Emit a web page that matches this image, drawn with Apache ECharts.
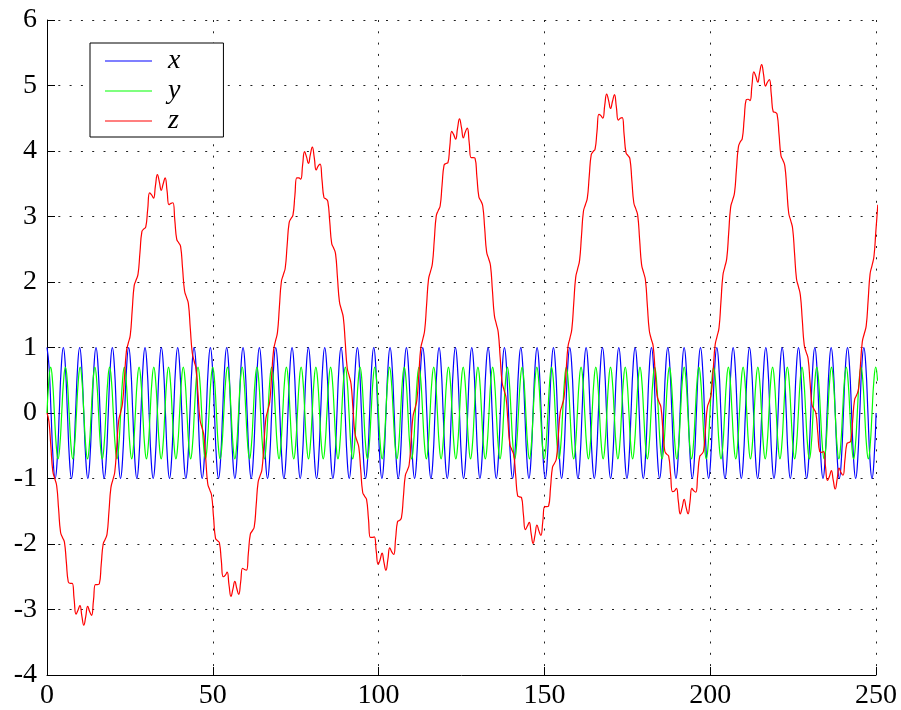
<!DOCTYPE html>
<html>
<head>
<meta charset="utf-8">
<title>x, y, z</title>
<script src="https://cdn.jsdelivr.net/npm/echarts@6/dist/echarts.min.js"></script>
<style>
  html, body { margin: 0; padding: 0; background: #ffffff; }
  #chart { width: 901px; height: 710px; }
</style>
</head>
<body>
<div id="chart"></div>
<script>
// Spacing (in time units) between consecutive recorded samples of each signal
const xSampleStep = 0.615833;
const ySampleStep = 0.55536;
const zSampleStep = 0.584029;

// x: fast oscillation, amplitude 1
const xValues = [
  1, 0.71, 0, -0.71, -1, -0.71, 0, 0.71, 1, 0.71, 0, -0.71, -1, -0.71, 0, 0.71,
  1, 0.71, 0, -0.71, -1, -0.71, 0, 0.71, 1, 0.71, 0, -0.71, -1, -0.71, 0, 0.71,
  1, 0.71, 0, -0.71, -1, -0.71, 0, 0.71, 1, 0.71, 0, -0.71, -1, -0.71, 0, 0.71,
  1, 0.71, 0, -0.71, -1, -0.71, 0, 0.71, 1, 0.71, 0, -0.71, -1, -0.71, 0, 0.71,
  1, 0.71, 0, -0.71, -1, -0.71, 0, 0.71, 1, 0.71, 0, -0.71, -1, -0.71, 0, 0.71,
  1, 0.71, 0, -0.71, -1, -0.71, 0, 0.71, 1, 0.71, 0, -0.71, -1, -0.71, 0, 0.71,
  1, 0.71, 0, -0.71, -1, -0.71, 0, 0.71, 1, 0.71, 0, -0.71, -1, -0.71, 0, 0.71,
  1, 0.71, 0, -0.71, -1, -0.71, 0, 0.71, 1, 0.71, 0, -0.71, -1, -0.71, 0, 0.71,
  1, 0.71, 0, -0.71, -1, -0.71, 0, 0.71, 1, 0.71, 0, -0.71, -1, -0.71, 0, 0.71,
  1, 0.71, 0, -0.71, -1, -0.71, 0, 0.71, 1, 0.71, 0, -0.71, -1, -0.71, 0, 0.71,
  1, 0.71, 0, -0.71, -1, -0.71, 0, 0.71, 1, 0.71, 0, -0.71, -1, -0.71, 0, 0.71,
  1, 0.71, 0, -0.71, -1, -0.71, 0, 0.71, 1, 0.71, 0, -0.71, -1, -0.71, 0, 0.71,
  1, 0.71, 0, -0.71, -1, -0.71, 0, 0.71, 1, 0.71, 0, -0.71, -1, -0.71, 0, 0.71,
  1, 0.71, 0, -0.71, -1, -0.71, 0, 0.71, 1, 0.71, 0, -0.71, -1, -0.71, 0, 0.71,
  1, 0.71, 0, -0.71, -1, -0.71, 0, 0.71, 1, 0.71, 0, -0.71, -1, -0.71, 0, 0.71,
  1, 0.71, 0, -0.71, -1, -0.71, 0, 0.71, 1, 0.71, 0, -0.71, -1, -0.71, 0, 0.71,
  1, 0.71, 0, -0.71, -1, -0.71, 0, 0.71, 1, 0.71, 0, -0.71, -1, -0.71, 0, 0.71,
  1, 0.71, 0, -0.71, -1, -0.71, 0, 0.71, 1, 0.71, 0, -0.71, -1, -0.71, 0, 0.71,
  1, 0.71, 0, -0.71, -1, -0.71, 0, 0.71, 1, 0.71, 0, -0.71, -1, -0.71, 0, 0.71,
  1, 0.71, 0, -0.71, -1, -0.71, 0, 0.71, 1, 0.71, 0, -0.71, -1, -0.71, 0, 0.71,
  1, 0.71, 0, -0.71, -1, -0.71, 0, 0.71, 1, 0.71, 0, -0.71, -1, -0.71, 0, 0.71,
  1, 0.71, 0, -0.71, -1, -0.71, 0, 0.71, 1, 0.71, 0, -0.71, -1, -0.71, 0, 0.71,
  1, 0.71, 0, -0.71, -1, -0.71, 0, 0.71, 1, 0.71, 0, -0.71, -1, -0.71, 0, 0.71,
  1, 0.71, 0, -0.71, -1, -0.71, 0, 0.71, 1, 0.71, 0, -0.71, -1, -0.71, 0, 0.71,
  1, 0.71, 0, -0.71, -1, -0.71, 0, 0.71, 1, 0.71, 0, -0.71, -1, -0.71, 0, 0.71,
  1, 0.71, 0, -0.71, -1, -0.71, 0
];

// y: slightly faster oscillation, amplitude 0.7
const yValues = [
  0, 0.49, 0.7, 0.49, 0, -0.49, -0.7, -0.49, 0, 0.49, 0.7, 0.49, 0, -0.49, -0.7, -0.49,
  0, 0.49, 0.7, 0.49, 0, -0.49, -0.7, -0.49, 0, 0.49, 0.7, 0.49, 0, -0.49, -0.7, -0.49,
  0, 0.49, 0.7, 0.49, 0, -0.49, -0.7, -0.49, 0, 0.49, 0.7, 0.49, 0, -0.49, -0.7, -0.49,
  0, 0.49, 0.7, 0.49, 0, -0.49, -0.7, -0.49, 0, 0.49, 0.7, 0.49, 0, -0.49, -0.7, -0.49,
  0, 0.49, 0.7, 0.49, 0, -0.49, -0.7, -0.49, 0, 0.49, 0.7, 0.49, 0, -0.49, -0.7, -0.49,
  0, 0.49, 0.7, 0.49, 0, -0.49, -0.7, -0.49, 0, 0.49, 0.7, 0.49, 0, -0.49, -0.7, -0.49,
  0, 0.49, 0.7, 0.49, 0, -0.49, -0.7, -0.49, 0, 0.49, 0.7, 0.49, 0, -0.49, -0.7, -0.49,
  0, 0.49, 0.7, 0.49, 0, -0.49, -0.7, -0.49, 0, 0.49, 0.7, 0.49, 0, -0.49, -0.7, -0.49,
  0, 0.49, 0.7, 0.49, 0, -0.49, -0.7, -0.49, 0, 0.49, 0.7, 0.49, 0, -0.49, -0.7, -0.49,
  0, 0.49, 0.7, 0.49, 0, -0.49, -0.7, -0.49, 0, 0.49, 0.7, 0.49, 0, -0.49, -0.7, -0.49,
  0, 0.49, 0.7, 0.49, 0, -0.49, -0.7, -0.49, 0, 0.49, 0.7, 0.49, 0, -0.49, -0.7, -0.49,
  0, 0.49, 0.7, 0.49, 0, -0.49, -0.7, -0.49, 0, 0.49, 0.7, 0.49, 0, -0.49, -0.7, -0.49,
  0, 0.49, 0.7, 0.49, 0, -0.49, -0.7, -0.49, 0, 0.49, 0.7, 0.49, 0, -0.49, -0.7, -0.49,
  0, 0.49, 0.7, 0.49, 0, -0.49, -0.7, -0.49, 0, 0.49, 0.7, 0.49, 0, -0.49, -0.7, -0.49,
  0, 0.49, 0.7, 0.49, 0, -0.49, -0.7, -0.49, 0, 0.49, 0.7, 0.49, 0, -0.49, -0.7, -0.49,
  0, 0.49, 0.7, 0.49, 0, -0.49, -0.7, -0.49, 0, 0.49, 0.7, 0.49, 0, -0.49, -0.7, -0.49,
  0, 0.49, 0.7, 0.49, 0, -0.49, -0.7, -0.49, 0, 0.49, 0.7, 0.49, 0, -0.49, -0.7, -0.49,
  0, 0.49, 0.7, 0.49, 0, -0.49, -0.7, -0.49, 0, 0.49, 0.7, 0.49, 0, -0.49, -0.7, -0.49,
  0, 0.49, 0.7, 0.49, 0, -0.49, -0.7, -0.49, 0, 0.49, 0.7, 0.49, 0, -0.49, -0.7, -0.49,
  0, 0.49, 0.7, 0.49, 0, -0.49, -0.7, -0.49, 0, 0.49, 0.7, 0.49, 0, -0.49, -0.7, -0.49,
  0, 0.49, 0.7, 0.49, 0, -0.49, -0.7, -0.49, 0, 0.49, 0.7, 0.49, 0, -0.49, -0.7, -0.49,
  0, 0.49, 0.7, 0.49, 0, -0.49, -0.7, -0.49, 0, 0.49, 0.7, 0.49, 0, -0.49, -0.7, -0.49,
  0, 0.49, 0.7, 0.49, 0, -0.49, -0.7, -0.49, 0, 0.49, 0.7, 0.49, 0, -0.49, -0.7, -0.49,
  0, 0.49, 0.7, 0.49, 0, -0.49, -0.7, -0.49, 0, 0.49, 0.7, 0.49, 0, -0.49, -0.7, -0.49,
  0, 0.49, 0.7, 0.49, 0, -0.49, -0.7, -0.49, 0, 0.49, 0.7, 0.49, 0, -0.49, -0.7, -0.49,
  0, 0.49, 0.7, 0.49, 0, -0.49, -0.7, -0.49, 0, 0.49, 0.7, 0.49, 0, -0.49, -0.7, -0.49,
  0, 0.49, 0.7, 0.49, 0, -0.49, -0.7, -0.49, 0, 0.49, 0.7, 0.49, 0, -0.49, -0.7, -0.49,
  0, 0.49, 0.7, 0.49, 0, -0.49, -0.7, -0.49, 0, 0.49, 0.7, 0.49, 0, -0.49, -0.7, -0.49,
  0, 0.49, 0.7, 0.49
];

// z: slow swing with a small ripple riding on it, drifting upward
const zValues = [
  0, -0.13, -0.51, -0.89, -1.00, -1.11, -1.47, -1.82, -1.90, -1.97,
  -2.28, -2.58, -2.60, -2.60, -2.84, -3.07, -3.01, -2.94, -3.10, -3.24,
  -3.11, -2.95, -3.03, -3.09, -2.86, -2.62, -2.62, -2.61, -2.31, -2.00,
  -1.93, -1.85, -1.50, -1.14, -1.02, -0.90, -0.52, -0.12, 0.01, 0.15,
  0.54, 0.94, 1.07, 1.19, 1.57, 1.94, 2.03, 2.12, 2.45, 2.77,
  2.81, 2.84, 3.11, 3.36, 3.33, 3.28, 3.47, 3.64, 3.53, 3.40,
  3.50, 3.59, 3.39, 3.18, 3.20, 3.21, 2.94, 2.65, 2.60, 2.54,
  2.21, 1.87, 1.77, 1.67, 1.29, 0.92, 0.79, 0.67, 0.28, -0.10,
  -0.22, -0.34, -0.71, -1.08, -1.17, -1.26, -1.59, -1.91, -1.95, -1.98,
  -2.25, -2.50, -2.48, -2.43, -2.63, -2.80, -2.69, -2.57, -2.68, -2.77,
  -2.58, -2.37, -2.39, -2.40, -2.13, -1.85, -1.80, -1.74, -1.41, -1.06,
  -0.96, -0.86, -0.48, -0.09, 0.04, 0.17, 0.57, 0.96, 1.10, 1.23,
  1.62, 2.00, 2.11, 2.21, 2.56, 2.90, 2.97, 3.02, 3.32, 3.59,
  3.59, 3.57, 3.79, 3.99, 3.91, 3.81, 3.95, 4.06, 3.90, 3.71,
  3.77, 3.80, 3.56, 3.29, 3.27, 3.23, 2.92, 2.59, 2.52, 2.43,
  2.06, 1.70, 1.58, 1.46, 1.08, 0.69, 0.57, 0.44, 0.06, -0.31,
  -0.42, -0.52, -0.87, -1.21, -1.27, -1.32, -1.62, -1.90, -1.90, -1.89,
  -2.11, -2.31, -2.24, -2.14, -2.28, -2.40, -2.24, -2.06, -2.12, -2.16,
  -1.92, -1.66, -1.64, -1.60, -1.29, -0.96, -0.88, -0.79, -0.42, -0.05,
  0.07, 0.20, 0.59, 0.99, 1.12, 1.26, 1.65, 2.04, 2.16, 2.28,
  2.65, 3.01, 3.09, 3.16, 3.48, 3.78, 3.81, 3.82, 4.07, 4.30,
  4.25, 4.18, 4.35, 4.49, 4.36, 4.20, 4.29, 4.35, 4.13, 3.90,
  3.90, 3.89, 3.60, 3.30, 3.24, 3.16, 2.82, 2.46, 2.36, 2.25,
  1.87, 1.49, 1.36, 1.23, 0.85, 0.47, 0.35, 0.24, -0.12, -0.48,
  -0.56, -0.64, -0.95, -1.26, -1.28, -1.29, -1.55, -1.78, -1.73, -1.67,
  -1.84, -1.99, -1.86, -1.71, -1.80, -1.87, -1.66, -1.43, -1.43, -1.42,
  -1.14, -0.83, -0.77, -0.70, -0.35, 0.01, 0.12, 0.24, 0.62, 1.01,
  1.14, 1.28, 1.68, 2.07, 2.20, 2.33, 2.71, 3.08, 3.18, 3.28,
  3.62, 3.94, 3.99, 4.03, 4.30, 4.56, 4.54, 4.50, 4.70, 4.87,
  4.77, 4.65, 4.76, 4.86, 4.67, 4.47, 4.50, 4.51, 4.25, 3.97,
  3.93, 3.88, 3.55, 3.21, 3.12, 3.02, 2.65, 2.27, 2.15, 2.03,
  1.64, 1.26, 1.13, 1.02, 0.64, 0.27, 0.17, 0.09, -0.25, -0.58,
  -0.63, -0.66, -0.94, -1.20, -1.19, -1.15, -1.35, -1.54, -1.44, -1.32,
  -1.44, -1.54, -1.36, -1.15, -1.19, -1.21, -0.95, -0.67, -0.63, -0.58,
  -0.25, 0.09, 0.18, 0.29, 0.66, 1.04, 1.17, 1.30, 1.70, 2.10,
  2.23, 2.36, 2.75, 3.14, 3.25, 3.36, 3.72, 4.06, 4.14, 4.19,
  4.49, 4.78, 4.79, 4.77, 5.00, 5.21, 5.14, 5.05, 5.20, 5.32,
  5.17, 4.99, 5.05, 5.09, 4.86, 4.60, 4.59, 4.56, 4.25, 3.93,
  3.86, 3.77, 3.42, 3.05, 2.94, 2.82, 2.44, 2.05, 1.93, 1.80,
  1.42, 1.04, 0.93, 0.83, 0.47, 0.13, 0.06, 0.00, -0.30, -0.59,
  -0.60, -0.59, -0.82, -1.03, -0.97, -0.88, -1.03, -1.16, -1.01, -0.84,
  -0.91, -0.95, -0.72, -0.47, -0.45, -0.43, -0.12, 0.20, 0.27, 0.36,
  0.72, 1.09, 1.21, 1.33, 1.72, 2.12, 2.25, 2.39, 2.78, 3.18
];

const seriesNames = ['x', 'y', 'z'];
const seriesColors = ['#0000ff', '#00ff00', '#ff0000'];
const xTickValues = [0, 50, 100, 150, 200, 250];
const yTickValues = [-4, -3, -2, -1, 0, 1, 2, 3, 4, 5, 6];

// Pair each sample with its time stamp for the value-type x axis
function withTime(values, step) {
  return values.map(function (v, i) { return [i * step, v]; });
}

const serif = 'Liberation Serif';
const dottedGrid = { color: '#222', width: 1, type: [2, 9.3] };

const chart = echarts.init(document.getElementById('chart'), null, { renderer: 'canvas' });

function lineSeries(name, color, data) {
  return {
    name: name,
    type: 'line',
    data: data,
    color: color,
    symbol: 'none',
    showSymbol: false,
    smooth: true,
    clip: true,
    lineStyle: { color: color, width: 1.2 },
    emphasis: { disabled: true }
  };
}

chart.setOption({
  animation: false,
  backgroundColor: '#ffffff',
  textStyle: { fontFamily: serif },
  grid: { left: 47, right: 25, top: 20, bottom: 35, containLabel: false, outerBoundsMode: 'none' },
  xAxis: {
    type: 'value',
    min: xTickValues[0],
    max: xTickValues[xTickValues.length - 1],
    interval: xTickValues[1] - xTickValues[0],
    axisLine: { show: true, onZero: false, lineStyle: { color: '#000', width: 1 } },
    axisTick: { show: true, inside: true, length: 8, lineStyle: { color: '#000', width: 1 } },
    axisLabel: { color: '#000', fontFamily: serif, fontSize: 28, margin: 7 },
    splitLine: { show: true, lineStyle: dottedGrid }
  },
  yAxis: {
    type: 'value',
    min: yTickValues[0],
    max: yTickValues[yTickValues.length - 1],
    interval: yTickValues[1] - yTickValues[0],
    axisLine: { show: true, onZero: false, lineStyle: { color: '#000', width: 1 } },
    axisTick: { show: true, inside: true, length: 8, lineStyle: { color: '#000', width: 1 } },
    axisLabel: { color: '#000', fontFamily: serif, fontSize: 28, margin: 10 },
    splitLine: { show: true, lineStyle: dottedGrid }
  },
  legend: {
    data: seriesNames,
    orient: 'vertical',
    left: 90,
    top: 43,
    padding: [3, 43, 1, 15],
    itemGap: 0,
    itemWidth: 47,
    itemHeight: 1.2,
    icon: 'rect',
    borderColor: '#000',
    borderWidth: 1,
    borderRadius: 0,
    backgroundColor: '#ffffff',
    selectedMode: false,
    textStyle: {
      fontFamily: serif,
      fontStyle: 'italic',
      fontSize: 28,
      lineHeight: 30,
      color: '#000',
      padding: [0, 0, 0, 11]
    }
  },
  series: [
    lineSeries(seriesNames[0], seriesColors[0], withTime(xValues, xSampleStep)),
    lineSeries(seriesNames[1], seriesColors[1], withTime(yValues, ySampleStep)),
    lineSeries(seriesNames[2], seriesColors[2], withTime(zValues, zSampleStep))
  ]
});
</script>
</body>
</html>
